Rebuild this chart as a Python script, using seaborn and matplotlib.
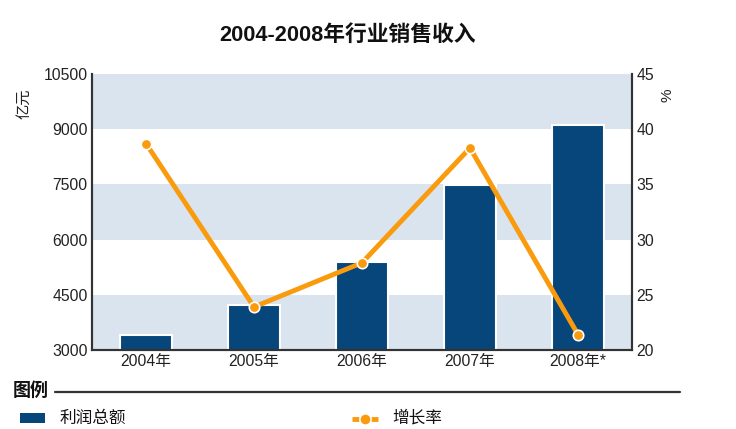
import numpy as np
import pandas as pd
import matplotlib
matplotlib.use("Agg")
import matplotlib.pyplot as plt
import seaborn as sns
from matplotlib.lines import Line2D
from matplotlib.patches import Rectangle

# data
years = ["2004年", "2005年", "2006年", "2007年", "2008年*"]
revenue = [3400, 4220, 5400, 7480, 9110]      # 亿元
growth = [38.7, 23.9, 27.9, 38.3, 21.4]       # %
left_ticks = [3000, 4500, 6000, 7500, 9000, 10500]
right_ticks = [20, 25, 30, 35, 40, 45]

BAR_COLOR = "#06467b"
LINE_COLOR = "#f99b0c"
BAND_COLOR = "#d9e4ef"

sns.set_theme(style="white")
plt.rcParams['font.family'] = ['Liberation Sans', 'Noto Sans CJK SC', 'DejaVu Sans']

df = pd.DataFrame({"year": years, "revenue": revenue, "growth": growth})

fig = plt.figure(figsize=(7.36, 4.29), dpi=100)
ax = fig.add_axes([92 / 736, 1 - 350 / 429, 540 / 736, 276 / 429])

# alternating horizontal bands
for i, lo in enumerate(left_ticks[:-1]):
    if i % 2 == 0:
        ax.axhspan(lo, left_ticks[i + 1], color=BAND_COLOR, zorder=0, lw=0)

sns.barplot(data=df, x="year", y="revenue", ax=ax, color=BAR_COLOR,
            width=0.48, edgecolor="white", linewidth=1.5, saturation=1, zorder=2)
ax.set_ylim(3000, 10500)
ax.set_yticks(left_ticks)
ax.set_xlabel("")
ax.set_ylabel("")
ax.tick_params(axis="both", labelsize=11.3, colors="#222222", length=0, pad=3)

ax2 = ax.twinx()
sns.pointplot(data=df, x="year", y="growth", ax=ax2, color=LINE_COLOR,
              markers="o", linestyles="-", markersize=7.5,
              markeredgecolor="white", markeredgewidth=1.2, linewidth=3.5)
ax2.set_ylim(20, 45)
ax2.set_yticks(right_ticks)
ax2.set_xlim(-0.5, 4.5)
ax2.set_xlabel("")
ax2.set_ylabel("")
ax2.tick_params(axis="y", labelsize=11.3, colors="#222222", length=0, pad=3)

for a in (ax, ax2):
    a.spines["top"].set_visible(False)
    for s in ("left", "right", "bottom"):
        a.spines[s].set_color("#333333")
        a.spines[s].set_linewidth(1.5)

fig.text(347 / 736, 1 - 35 / 429, "2004-2008年行业销售收入", ha="center", va="center",
         fontsize=15.7, fontweight="bold", color="#111111")
fig.text(24 / 736, 1 - 104 / 429, "亿元", rotation=90, ha="center", va="center",
         fontsize=11, color="#222222")
fig.text(668 / 736, 1 - 95 / 429, "%", rotation=90, ha="center", va="center",
         fontsize=11, color="#222222")

# legend block below the plot
fig.text(13 / 736, 1 - 391 / 429, "图例", ha="left", va="center",
         fontsize=13, fontweight="bold", color="#111111")
fig.add_artist(Line2D([55 / 736, 680 / 736], [1 - 392 / 429, 1 - 392 / 429],
                      color="#333333", lw=1.6))
fig.add_artist(Rectangle((20 / 736, 1 - 423 / 429), 25 / 736, 10 / 429,
                         facecolor=BAR_COLOR, edgecolor="none"))
fig.text(60 / 736, 1 - 418 / 429, "利润总额", ha="left", va="center",
         fontsize=12, color="#111111")
for x0, x1 in ((352, 359), (371, 378)):
    fig.add_artist(Line2D([x0 / 736, x1 / 736], [1 - 419 / 429, 1 - 419 / 429],
                          color=LINE_COLOR, lw=3.5, solid_capstyle="butt"))
fig.add_artist(Line2D([365 / 736], [1 - 419 / 429], marker="o", markersize=8,
                      color=LINE_COLOR, markeredgecolor="white", markeredgewidth=1))
fig.text(392 / 736, 1 - 418 / 429, "增长率", ha="left", va="center",
         fontsize=12, color="#111111")

fig.savefig("out.png", dpi=100)
